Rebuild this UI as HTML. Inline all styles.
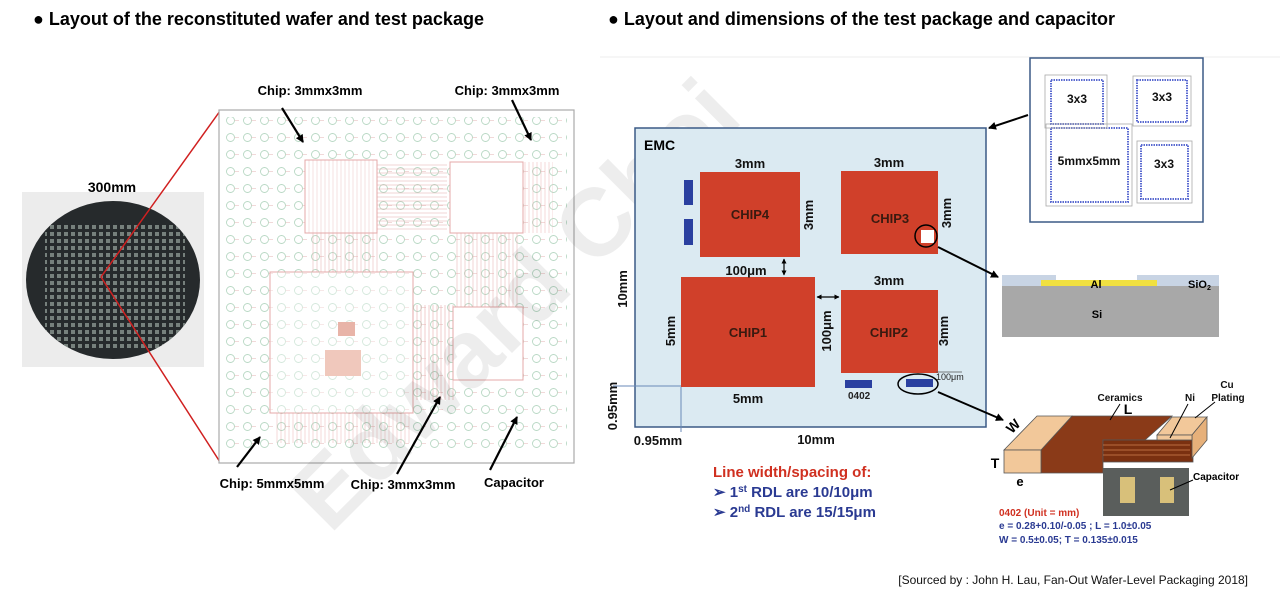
<!DOCTYPE html>
<html><head><meta charset="utf-8"><style>
body{margin:0;width:1280px;height:598px;background:#fff;overflow:hidden;font-family:"Liberation Sans",Arial,sans-serif}
svg{position:absolute;left:0;top:0}
</style></head><body>
<svg width="1280" height="598" viewBox="0 0 1280 598" font-family="Liberation Sans, Arial, sans-serif">
<defs>
<pattern id="pcb" x="222" y="112" width="17" height="17" patternUnits="userSpaceOnUse">
<circle cx="8.5" cy="8.5" r="4" fill="none" stroke="#b8d8c4" stroke-width="0.9"/>
<line x1="12.5" y1="8.5" x2="17" y2="8.5" stroke="#e8c0c0" stroke-width="0.6"/>
</pattern>
<pattern id="tr" width="4" height="10" patternUnits="userSpaceOnUse"><line x1="1" y1="0" x2="1" y2="10" stroke="#e4a8a8" stroke-width="0.7"/></pattern>
<pattern id="trh" width="10" height="4" patternUnits="userSpaceOnUse"><line x1="0" y1="1" x2="10" y2="1" stroke="#e4a8a8" stroke-width="0.7"/></pattern>
<pattern id="dots" x="0" y="0" width="7" height="7" patternUnits="userSpaceOnUse"><rect x="1" y="1" width="4" height="4" fill="#8a9590"/></pattern>
<marker id="ah" markerWidth="8" markerHeight="8" refX="7" refY="4" orient="auto" markerUnits="userSpaceOnUse"><path d="M0,0 L8,4 L0,8 z" fill="#000"/></marker>
<marker id="ahs" markerWidth="5" markerHeight="5" refX="4.5" refY="2.5" orient="auto" markerUnits="userSpaceOnUse"><path d="M0,0 L5,2.5 L0,5 z" fill="#000"/></marker>
<marker id="ahs2" markerWidth="5" markerHeight="5" refX="0.5" refY="2.5" orient="auto" markerUnits="userSpaceOnUse"><path d="M5,0 L0,2.5 L5,5 z" fill="#000"/></marker>
<clipPath id="wc"><ellipse cx="113" cy="280" rx="87" ry="79"/></clipPath>
</defs>

<text x="33" y="25" font-size="18" font-weight="bold">● Layout of the reconstituted wafer and test package</text>
<text x="608" y="25" font-size="18" font-weight="bold">● Layout and dimensions of the test package and capacitor</text>
<line x1="600" y1="57" x2="1280" y2="57" stroke="#eee" stroke-width="1"/>

<rect x="22" y="192" width="182" height="175" fill="#ececec"/>
<ellipse cx="113" cy="280" rx="87" ry="79" fill="#262a2c"/>
<g clip-path="url(#wc)"><rect x="45" y="225" width="140" height="125" fill="url(#dots)" opacity="0.8"/></g>
<text x="112" y="192" font-size="14" font-weight="bold" text-anchor="middle">300mm</text>
<line x1="101" y1="277" x2="220" y2="111" stroke="#d02020" stroke-width="1.5"/>
<line x1="101" y1="277" x2="220" y2="462" stroke="#d02020" stroke-width="1.5"/>

<rect x="219" y="110" width="355" height="353" fill="#fff" stroke="#aaa" stroke-width="1.2"/>
<rect x="226" y="117" width="341" height="339" fill="url(#pcb)"/>
<rect x="305" y="160" width="72" height="73" fill="#fff" stroke="#e4a8a8"/>
<rect x="305" y="160" width="72" height="73" fill="url(#tr)" opacity="0.5"/>
<rect x="377" y="162" width="70" height="70" fill="url(#trh)" opacity="0.7"/>
<rect x="450" y="162" width="73" height="71" fill="#fff" stroke="#e4a8a8"/>
<rect x="523" y="162" width="30" height="71" fill="url(#tr)" opacity="0.6"/>
<rect x="310" y="233" width="70" height="40" fill="url(#tr)" opacity="0.7"/>
<rect x="455" y="233" width="65" height="75" fill="url(#tr)" opacity="0.7"/>
<rect x="270" y="272" width="143" height="141" fill="#fff" stroke="#e4a8a8"/>
<rect x="270" y="272" width="143" height="141" fill="url(#pcb)" opacity="0.6"/>
<rect x="338" y="322" width="17" height="14" fill="#e8b4a8"/>
<rect x="325" y="350" width="36" height="26" fill="#f0c8bc"/>
<rect x="410" y="305" width="45" height="95" fill="url(#tr)" opacity="0.8"/>
<rect x="453" y="307" width="70" height="73" fill="#fff" stroke="#e4a8a8"/>
<rect x="275" y="413" width="135" height="30" fill="url(#tr)" opacity="0.6"/>

<text x="310" y="95" font-size="13" font-weight="bold" text-anchor="middle">Chip: 3mmx3mm</text>
<text x="507" y="95" font-size="13" font-weight="bold" text-anchor="middle">Chip: 3mmx3mm</text>
<text x="272" y="488" font-size="13" font-weight="bold" text-anchor="middle">Chip: 5mmx5mm</text>
<text x="403" y="489" font-size="13" font-weight="bold" text-anchor="middle">Chip: 3mmx3mm</text>
<text x="514" y="487" font-size="13" font-weight="bold" text-anchor="middle">Capacitor</text>
<g stroke="#000" stroke-width="2.2" marker-end="url(#ah)">
<line x1="282" y1="108" x2="303" y2="142"/>
<line x1="512" y1="100" x2="531" y2="140"/>
<line x1="237" y1="467" x2="260" y2="437"/>
<line x1="397" y1="474" x2="440" y2="397"/>
<line x1="490" y1="470" x2="517" y2="417"/>
</g>

<text x="0" y="0" font-size="96" font-weight="bold" fill="#000" fill-opacity="0.07" transform="translate(330,535) rotate(-45)">Edward Choi</text>

<rect x="635" y="128" width="351" height="299" fill="#dbeaf2" stroke="#3b5a86" stroke-width="1.5"/>
<text x="644" y="150" font-size="14" font-weight="bold">EMC</text>
<rect x="700" y="172" width="100" height="85" fill="#d0402a"/>
<rect x="841" y="171" width="97" height="83" fill="#d0402a"/>
<rect x="681" y="277" width="134" height="110" fill="#d0402a"/>
<rect x="841" y="290" width="97" height="83" fill="#d0402a"/>
<g font-size="13" font-weight="bold" fill="#3a1a10" text-anchor="middle">
<text x="750" y="219">CHIP4</text><text x="890" y="223">CHIP3</text>
<text x="748" y="337">CHIP1</text><text x="889" y="337">CHIP2</text>
</g>
<rect x="684" y="180" width="9" height="25" fill="#2a40a0"/>
<rect x="684" y="219" width="9" height="26" fill="#2a40a0"/>
<rect x="845" y="380" width="27" height="8" fill="#2a40a0"/>
<rect x="906" y="379" width="27" height="8" fill="#2a40a0"/>
<rect x="921" y="230" width="13" height="13" fill="#fff"/>
<ellipse cx="926" cy="236" rx="11" ry="11" fill="none" stroke="#000" stroke-width="1.5"/>
<ellipse cx="918" cy="384" rx="20" ry="10" fill="none" stroke="#000" stroke-width="1.5"/>
<g font-size="13" font-weight="bold" fill="#111">
<text x="750" y="168" text-anchor="middle">3mm</text>
<text x="889" y="167" text-anchor="middle">3mm</text>
<text x="889" y="285" text-anchor="middle">3mm</text>
<text x="748" y="403" text-anchor="middle">5mm</text>
<text x="746" y="275" text-anchor="middle">100μm</text>
<text x="658" y="445" text-anchor="middle">0.95mm</text>
<text x="816" y="444" text-anchor="middle">10mm</text>
<text transform="translate(813,215) rotate(-90)" text-anchor="middle">3mm</text>
<text transform="translate(951,213) rotate(-90)" text-anchor="middle">3mm</text>
<text transform="translate(948,331) rotate(-90)" text-anchor="middle">3mm</text>
<text transform="translate(675,331) rotate(-90)" text-anchor="middle">5mm</text>
<text transform="translate(831,331) rotate(-90)" text-anchor="middle">100μm</text>
<text transform="translate(627,289) rotate(-90)" text-anchor="middle">10mm</text>
<text transform="translate(617,406) rotate(-90)" text-anchor="middle">0.95mm</text>
</g>
<text x="848" y="399" font-size="10" font-weight="bold" fill="#222">0402</text>
<text x="936" y="380" font-size="9" fill="#222">100μm</text>
<line x1="936" y1="372" x2="962" y2="372" stroke="#555" stroke-width="0.8"/>
<line x1="784" y1="259" x2="784" y2="275" stroke="#000" stroke-width="1.2" marker-start="url(#ahs2)" marker-end="url(#ahs)"/>
<line x1="817" y1="297" x2="839" y2="297" stroke="#000" stroke-width="1.2" marker-start="url(#ahs2)" marker-end="url(#ahs)"/>
<line x1="613" y1="386" x2="681" y2="386" stroke="#6a8ab8" stroke-width="1"/>
<line x1="681" y1="387" x2="681" y2="432" stroke="#6a8ab8" stroke-width="1"/>

<text x="713" y="477" font-size="15" font-weight="bold" fill="#d03020">Line width/spacing of:</text>
<text x="713" y="497" font-size="15" font-weight="bold" fill="#2a3a92">➢ 1<tspan font-size="10" dy="-5">st</tspan><tspan dy="5"> RDL are 10/10μm</tspan></text>
<text x="713" y="517" font-size="15" font-weight="bold" fill="#2a3a92">➢ 2<tspan font-size="10" dy="-5">nd</tspan><tspan dy="5"> RDL are 15/15μm</tspan></text>

<rect x="1030" y="58" width="173" height="164" fill="#fff" stroke="#3b5a86" stroke-width="1.5"/>
<g fill="#fff" stroke="#5a6ad0" stroke-width="2" stroke-dasharray="1.5 1">
<rect x="1051" y="80" width="52" height="44"/>
<rect x="1137" y="80" width="50" height="42"/>
<rect x="1051" y="128" width="77" height="74"/>
<rect x="1141" y="145" width="47" height="54"/>
</g>
<g fill="none" stroke="#aaa" stroke-width="0.8">
<rect x="1045" y="75" width="62" height="53"/><rect x="1133" y="76" width="58" height="50"/>
<rect x="1046" y="124" width="86" height="82"/><rect x="1137" y="141" width="55" height="62"/>
</g>
<g font-size="12" font-weight="bold" fill="#111" text-anchor="middle">
<text x="1077" y="103">3x3</text><text x="1162" y="101">3x3</text>
<text x="1089" y="165">5mmx5mm</text><text x="1164" y="168">3x3</text>
</g>
<line x1="1028" y1="115" x2="989" y2="128" stroke="#000" stroke-width="2" marker-end="url(#ah)"/>

<rect x="1002" y="275" width="217" height="62" fill="#a8a8a8"/>
<rect x="1002" y="275" width="217" height="11" fill="#c8d4e4"/>
<rect x="1056" y="275" width="81" height="5" fill="#fff"/>
<rect x="1041" y="280" width="116" height="6" fill="#f0e040"/>
<text x="1096" y="288" font-size="11" font-weight="bold" text-anchor="middle">Al</text>
<text x="1188" y="288" font-size="11" font-weight="bold">SiO<tspan font-size="7" dy="2">2</tspan></text>
<text x="1097" y="318" font-size="11" font-weight="bold" text-anchor="middle">Si</text>
<line x1="938" y1="247" x2="998" y2="277" stroke="#000" stroke-width="2" marker-end="url(#ah)"/>
<line x1="938" y1="392" x2="1003" y2="420" stroke="#000" stroke-width="2" marker-end="url(#ah)"/>

<g stroke="#555" stroke-width="0.8">
<polygon points="1041,450 1072,416 1172,416 1145,440 1103,440 1103,473 1041,473" fill="#8a3a18"/>
<polygon points="1004,450 1037,416 1072,416 1041,450" fill="#f2c89a"/>
<rect x="1004" y="450" width="37" height="23" fill="#f2c89a"/>
<rect x="1103" y="440" width="90" height="22" fill="#7a3010"/>
<line x1="1103" y1="445" x2="1190" y2="445" stroke="#d08050"/>
<line x1="1103" y1="450" x2="1190" y2="450" stroke="#d08050"/>
<line x1="1103" y1="455" x2="1190" y2="455" stroke="#d08050"/>
<polygon points="1157,435 1172,417 1207,417 1192,435" fill="#f2c89a"/>
<polygon points="1192,435 1207,417 1207,440 1192,458" fill="#e6b07a"/>
<rect x="1157" y="435" width="35" height="5" fill="#f2c89a"/>
</g>
<g font-size="10" font-weight="bold" fill="#111" text-anchor="middle">
<text x="1120" y="401">Ceramics</text><text x="1190" y="401">Ni</text>
<text x="1227" y="388">Cu</text><text x="1228" y="401">Plating</text>
</g>
<text x="1128" y="414" font-size="14" font-weight="bold" text-anchor="middle">L</text>
<text x="1013" y="431" font-size="14" font-weight="bold" text-anchor="middle" transform="rotate(-45 1013 426)">W</text>
<text x="995" y="468" font-size="14" font-weight="bold" text-anchor="middle">T</text>
<text x="1020" y="486" font-size="13" font-weight="bold" text-anchor="middle">e</text>
<g stroke="#000" stroke-width="1"><line x1="1120" y1="404" x2="1110" y2="420"/><line x1="1188" y1="404" x2="1170" y2="438"/><line x1="1215" y1="402" x2="1195" y2="418"/></g>
<rect x="1103" y="468" width="86" height="48" fill="#5a5e5c"/>
<rect x="1120" y="477" width="15" height="26" fill="#d8c07a"/>
<rect x="1160" y="477" width="14" height="26" fill="#d8c07a"/>
<text x="1193" y="480" font-size="10" font-weight="bold">Capacitor</text>
<line x1="1193" y1="480" x2="1170" y2="490" stroke="#000" stroke-width="1"/>
<text x="999" y="516" font-size="10" font-weight="bold" fill="#d03020">0402 (Unit = mm)</text>
<text x="999" y="529" font-size="10" font-weight="bold" fill="#2a3a92">e = 0.28+0.10/-0.05 ; L = 1.0±0.05</text>
<text x="999" y="543" font-size="10" font-weight="bold" fill="#2a3a92">W = 0.5±0.05; T = 0.135±0.015</text>

<text x="1248" y="584" font-size="12" text-anchor="end" fill="#111">[Sourced by : John H. Lau, Fan-Out Wafer-Level Packaging 2018]</text>
</svg>
</body></html>
